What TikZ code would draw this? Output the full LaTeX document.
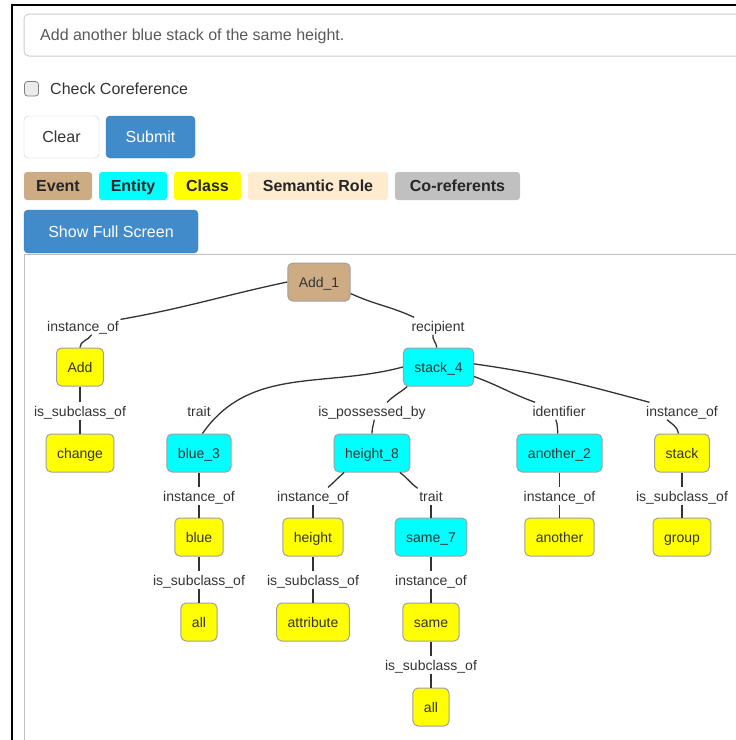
\documentclass[tikz,border=0pt]{standalone}
\usepackage{fontspec}
\setmainfont{Liberation Sans}
\definecolor{eventtan}{RGB}{205, 172, 132}
\definecolor{entitycyan}{RGB}{0, 255, 255}
\definecolor{classyellow}{RGB}{255, 255, 0}
\definecolor{rolebisque}{RGB}{255, 235, 205}
\definecolor{corefgray}{RGB}{192, 192, 192}
\definecolor{btnblue}{RGB}{66, 139, 202}
\definecolor{btnedge}{RGB}{53, 126, 189}
\definecolor{nodeedge}{RGB}{160, 160, 160}
\definecolor{textdark}{RGB}{51, 51, 51}
\usepackage{tikz}

\begin{document}
\begin{tikzpicture}[x=1pt, y=-1pt,
  gnode/.style={draw=nodeedge, line width=1pt, rounded corners=5pt, minimum height=38pt, inner xsep=11pt, text height=12pt, text depth=2pt, font=\fontsize{14}{16}\selectfont, text=textdark},
  eventnode/.style={gnode, fill=eventtan},
  entitynode/.style={gnode, fill=entitycyan},
  classnode/.style={gnode, fill=classyellow},
  rel/.style={font=\fontsize{14}{16}\selectfont, text=textdark, inner sep=1.5pt, text height=12pt, text depth=2pt},
  edge/.style={draw=textdark, line width=1.3pt},
  legendbox/.style={rounded corners=3pt, minimum height=28pt, inner sep=0pt, text height=13.5pt, text depth=2pt, font=\bfseries\fontsize{16}{18}\selectfont, text=black!85},
  button/.style={rounded corners=4pt, inner sep=0pt, text height=13.5pt, text depth=2pt, font=\fontsize{16}{18}\selectfont}]
  \useasboundingbox (0, 0) rectangle (736, 740);
  \clip (0, 0) rectangle (736, 740);

  % Page frame and input
  \draw[black, line width=1.5pt] (12, 745) -- (12, 5) -- (745, 5);
  \draw[black!20, line width=1pt, rounded corners=5pt] (24, 14) rectangle (760, 56);
  \node[anchor=west, font=\fontsize{16}{18}\selectfont, text=black!65, inner sep=0pt, text height=13.5pt, text depth=2pt] (sentence) at (40, 35) {Add another blue stack of the same height.};
  \draw[black!50, fill=black!8, line width=0.8pt, rounded corners=3pt] (24.5, 81.5) rectangle (38.5, 96);
  \node[anchor=west, font=\fontsize{16}{18}\selectfont, text=textdark, inner sep=0pt, text height=13.5pt, text depth=2pt] (coref) at (50, 89) {Check Coreference};

  % Buttons
  \node[button, draw=black!20, fill=white, text=textdark, minimum width=75pt, minimum height=42pt] (clear) at (61.5, 137) {Clear};
  \node[button, draw=btnedge, fill=btnblue, text=white, minimum width=89pt, minimum height=42pt] (submit) at (150.5, 137) {Submit};

  % Legend
  \node[legendbox, fill=eventtan, minimum width=68pt] (lgevent) at (58, 186) {Event};
  \node[legendbox, fill=entitycyan, minimum width=68pt] (lgentity) at (133, 186) {Entity};
  \node[legendbox, fill=classyellow, minimum width=67pt] (lgclass) at (207.5, 186) {Class};
  \node[legendbox, fill=rolebisque, minimum width=140pt] (lgrole) at (318, 186) {Semantic Role};
  \node[legendbox, fill=corefgray, minimum width=125pt] (lgcoref) at (457.5, 186) {Co-referents};

  % Graph panel
  \draw[black!25, line width=1pt] (24, 745) -- (24, 254) -- (745, 254);
  \node[button, draw=btnedge, fill=btnblue, text=white, minimum width=174pt, minimum height=43pt] (fullscreen) at (111, 231.5) {Show Full Screen};

  % Graph nodes
  \node[eventnode] (add1) at (319, 282) {Add\_1};
  \node[classnode] (addc) at (80, 367) {Add};
  \node[entitynode] (stack4) at (438.5, 367) {stack\_4};
  \node[classnode] (change) at (80, 453) {change};
  \node[entitynode] (blue3) at (199, 453) {blue\_3};
  \node[entitynode] (height8) at (372, 453) {height\_8};
  \node[entitynode] (another2) at (559.5, 453) {another\_2};
  \node[classnode] (stackc) at (682, 453) {stack};
  \node[classnode] (bluec) at (199, 537) {blue};
  \node[classnode] (heightc) at (313, 537) {height};
  \node[entitynode] (same7) at (431, 537) {same\_7};
  \node[classnode] (anotherc) at (559.5, 537) {another};
  \node[classnode] (group) at (682, 537) {group};
  \node[classnode] (allb) at (199, 622) {all};
  \node[classnode] (attribute) at (313, 622) {attribute};
  \node[classnode] (samec) at (431, 622) {same};
  \node[classnode] (alls) at (431, 707) {all};

  % Relation labels
  \node[rel] (r1) at (83, 326) {instance\_of};
  \node[rel] (r2) at (438, 326) {recipient};
  \node[rel] (r3) at (80, 411) {is\_subclass\_of};
  \node[rel] (r4) at (199, 411) {trait};
  \node[rel] (r5) at (372, 411) {is\_possessed\_by};
  \node[rel] (r6) at (559, 411) {identifier};
  \node[rel] (r7) at (682, 411) {instance\_of};
  \node[rel] (r8) at (199, 496) {instance\_of};
  \node[rel] (r9) at (313, 496) {instance\_of};
  \node[rel] (r10) at (431, 496) {trait};
  \node[rel] (r11) at (559.5, 496) {instance\_of};
  \node[rel] (r12) at (682, 496) {is\_subclass\_of};
  \node[rel] (r13) at (199, 580) {is\_subclass\_of};
  \node[rel] (r14) at (313, 580) {is\_subclass\_of};
  \node[rel] (r15) at (431, 580) {instance\_of};
  \node[rel] (r16) at (431, 665) {is\_subclass\_of};

  % Edges
  \draw[edge] (add1.west) to[out=192, in=10] (r1.10);
  \draw[edge] (r1.-45) to[out=-120, in=90] (addc);
  \draw[edge] (add1.-20) to[out=-25, in=155] (r2.160);
  \draw[edge] (r2.-120) to[out=-100, in=95] (stack4);
  \draw[edge] (addc) -- (r3);
  \draw[edge] (r3) -- (change);
  \draw[edge] (stack4.west) to[out=195, in=55] (blue3.80);
  \draw[edge] (stack4.212) to[out=-140, in=45] (r5.30);
  \draw[edge] (r5.-75) to[out=-100, in=90] (height8);
  \draw[edge] (stack4.-15) to[out=-20, in=160] (r6.160);
  \draw[edge] (r6.-110) to[out=-70, in=95] (another2);
  \draw[edge] (stack4.5) to[out=-8, in=165] (r7.165);
  \draw[edge] (r7.-150) to[out=-40, in=100] (stackc);
  \draw[edge] (blue3) -- (r8);
  \draw[edge] (r8) -- (bluec);
  \draw[edge] (height8.-145) to[out=-140, in=40] (r9.30);
  \draw[edge] (r9) -- (heightc);
  \draw[edge] (height8.-35) to[out=-35, in=145] (r10.150);
  \draw[edge] (r10) -- (same7);
  \draw[edge] (another2) -- (r11);
  \draw[edge] (r11) -- (anotherc);
  \draw[edge] (stackc) -- (r12);
  \draw[edge] (r12) -- (group);
  \draw[edge] (bluec) -- (r13);
  \draw[edge] (r13) -- (allb);
  \draw[edge] (heightc) -- (r14);
  \draw[edge] (r14) -- (attribute);
  \draw[edge] (same7) -- (r15);
  \draw[edge] (r15) -- (samec);
  \draw[edge] (samec) -- (r16);
  \draw[edge] (r16) -- (alls);
\end{tikzpicture}
\end{document}
